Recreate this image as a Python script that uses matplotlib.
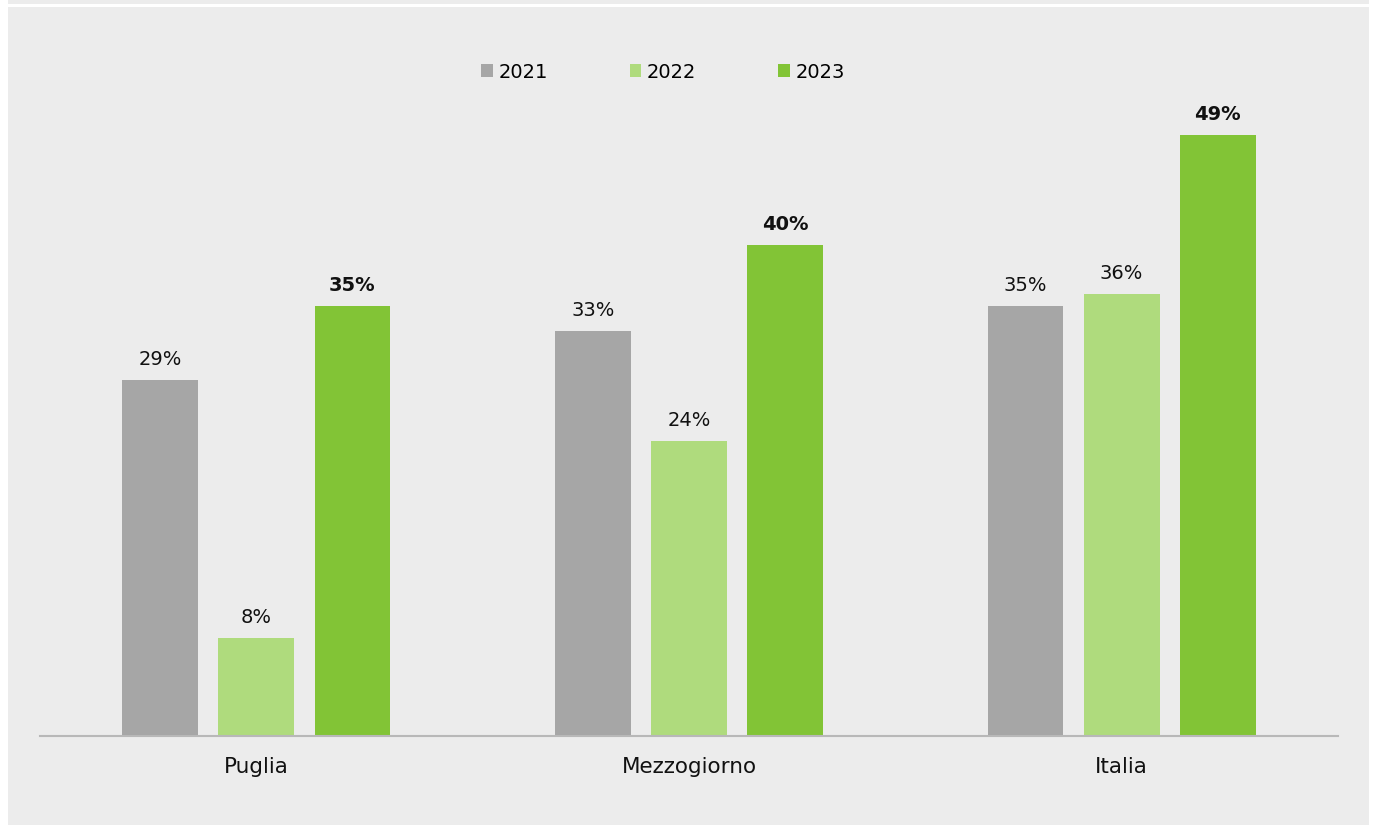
import matplotlib
matplotlib.use("Agg")
import matplotlib.pyplot as plt
from matplotlib.patches import Rectangle, Patch
import numpy as np

plt.rcParams['font.family'] = ['DejaVu Sans']

categories = ["Puglia", "Mezzogiorno", "Italia"]
years = ["2021", "2022", "2023"]
values_2021 = [29, 33, 35]
values_2022 = [8, 24, 36]
values_2023 = [35, 40, 49]
series = [values_2021, values_2022, values_2023]
colors = ["#A6A6A6", "#AFDB7D", "#82C436"]
bold_labels = [False, False, True]

W, H = 1375, 825
fig = plt.figure(figsize=(W / 100, H / 100), dpi=100, facecolor="white")

# panel background
bg = "#ECECEC"
fig.add_artist(Rectangle((8 / W, 0), (1369 - 8) / W, (825 - 7) / H,
                         transform=fig.transFigure, facecolor=bg, edgecolor="none", zorder=0))
fig.add_artist(Rectangle((8 / W, (825 - 4) / H), (1369 - 8) / W, 4 / H,
                         transform=fig.transFigure, facecolor=bg, edgecolor="none", zorder=0))

ax_left, ax_right = 40, 1338
ax_base, ax_top = 736, 61
ax = fig.add_axes([ax_left / W, (H - ax_base) / H, (ax_right - ax_left) / W, (ax_base - ax_top) / H])
ax.set_facecolor("none")
ax.set_xlim(-0.5, 2.5)
ax.set_ylim(0, 55)

x = np.arange(len(categories))
bar_w = 0.175
step = 0.222
for i, (vals, col, bold) in enumerate(zip(series, colors, bold_labels)):
    pos = x + (i - 1) * step
    ax.bar(pos, vals, width=bar_w, color=col, zorder=2)
    for p, v in zip(pos, vals):
        ax.annotate(f"{v}%", (p, v), xytext=(0, 8), textcoords="offset points",
                    ha="center", va="bottom", fontsize=14,
                    fontweight="bold" if bold else "normal", color="#111111")

for s in ["top", "right", "left"]:
    ax.spines[s].set_visible(False)
ax.spines["bottom"].set_color("#B8B8B8")
ax.spines["bottom"].set_linewidth(1.5)
ax.set_yticks([])
ax.set_xticks(x)
ax.set_xticklabels(categories, fontsize=15.5, color="#111111")
ax.tick_params(axis="x", length=0, pad=15)

handles = [Patch(facecolor=c, edgecolor="none") for c in colors]
fig.legend(handles, years, loc="center", bbox_to_anchor=(663 / W, 1 - 72 / H), ncol=3,
           frameon=False, fontsize=14, handlelength=0.6, handleheight=0.6,
           handletextpad=0.3, columnspacing=4.2)

fig.savefig("out.png", dpi=100, facecolor="white")
